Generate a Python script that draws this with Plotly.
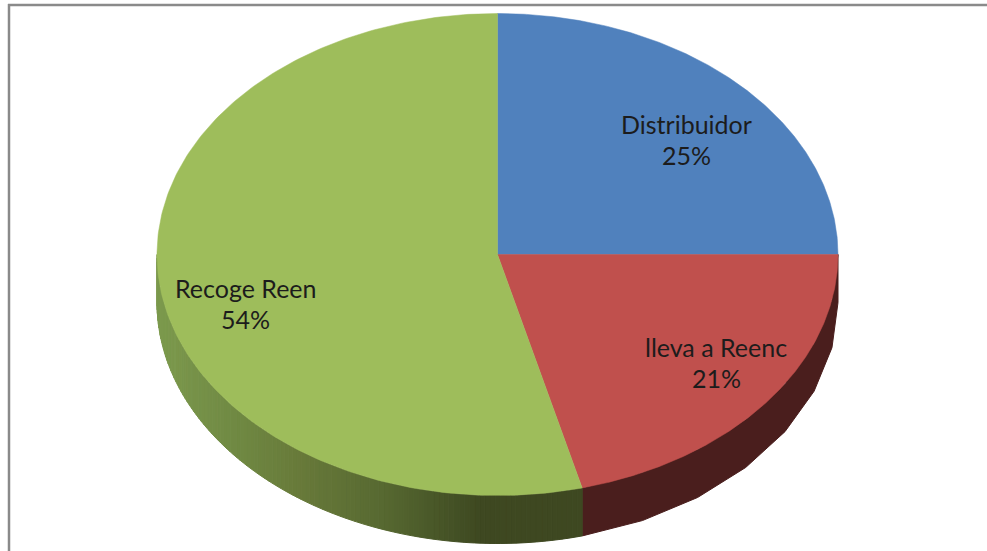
import numpy as np
import plotly.graph_objects as go

categories = ["Distribuidor", "lleva a Reenc", "Recoge Reen"]
values = [25, 21, 54]
top_colors = ["#5081bd", "#c0504d", "#9ebd5b"]

# pie geometry on a pixel-like axis
CX, CY, RX, RY, DEPTH = 497.5, 254.5, 340.5, 241, 48
LABEL_POS = [(686, 124), (716, 347), (245, 288)]
LINE_GAP = 30.5
FONT = "Lato"

# side-shading stops (x position -> colour)
green_x = [157, 230, 300, 380, 440, 480, 581]
green_rgb = [(125, 154, 78), (113, 139, 68), (104, 122, 58), (88, 106, 50), (72, 86, 40), (62, 73, 33), (62, 72, 33)]
red_rgb = (74, 30, 29)


def pt(theta, dy=0.0):
    """theta clockwise from 12 o'clock, radians."""
    return CX + RX * np.sin(theta), CY - RY * np.cos(theta) + dy


fig = go.Figure()

# cumulative angles derived from values
fr = np.cumsum([0] + values) / sum(values) * 2 * np.pi
a2 = fr[2]


def side_strip(t0, t1, colour):
    ts = np.linspace(t0, t1, 8)
    xa, ya = pt(ts)
    xb, yb = pt(ts[::-1], DEPTH)
    fig.add_trace(go.Scatter(
        x=np.r_[xa, xb, xa[0]], y=np.r_[ya, yb, ya[0]], mode="lines", fill="toself",
        fillcolor=colour, line=dict(color=colour, width=1), hoverinfo="skip", showlegend=False))


# red wall: from 3 o'clock to the red/green boundary
side_strip(np.pi / 2, a2, "rgb(%d,%d,%d)" % red_rgb)

# green wall: from the boundary to 9 o'clock with a horizontal gradient
edges = np.linspace(a2, 1.5 * np.pi, 121)
for t0, t1 in zip(edges[:-1], edges[1:]):
    xm = pt((t0 + t1) / 2)[0]
    rgb = [np.interp(xm, green_x, [c[i] for c in green_rgb]) for i in range(3)]
    side_strip(t0, t1, "rgb(%d,%d,%d)" % tuple(rgb))

# top face wedges
for i, (name, colour) in enumerate(zip(categories, top_colors)):
    ts = np.linspace(fr[i], fr[i + 1], 240)
    xa, ya = pt(ts)
    fig.add_trace(go.Scatter(
        x=np.r_[CX, xa, CX], y=np.r_[CY, ya, CY], mode="lines", fill="toself",
        fillcolor=colour, line=dict(color=colour, width=0.5), name=name,
        hoverinfo="name", showlegend=False))

# data labels: name and percentage as separate lines
annotations = []
for (lx, ly), c, v in zip(LABEL_POS, categories, values):
    for text, y in ((c, ly), (f"{v}%", ly + LINE_GAP)):
        annotations.append(dict(x=lx, y=y, xref="x", yref="y", showarrow=False, text=text,
                                font=dict(family=FONT, size=25, color="#1c1c1c")))

frame = dict(color="#8a8a8a", width=2.5)
fig.update_layout(
    width=987, height=551, margin=dict(l=0, r=0, t=0, b=0),
    paper_bgcolor="white", plot_bgcolor="white",
    xaxis=dict(range=[0, 987], visible=False, domain=[0, 1], fixedrange=True),
    yaxis=dict(range=[551, 0], visible=False, domain=[0, 1], fixedrange=True),
    annotations=annotations,
    shapes=[
        dict(type="line", xref="x", yref="y", x0=8, y0=5, x1=987, y1=5, line=frame, layer="below"),
        dict(type="line", xref="x", yref="y", x0=9, y0=4, x1=9, y1=551, line=frame, layer="below"),
    ],
)

fig.write_html("out.html", config={"displayModeBar": False},
               post_script="document.body.style.margin='0';document.body.style.overflow='hidden';")
